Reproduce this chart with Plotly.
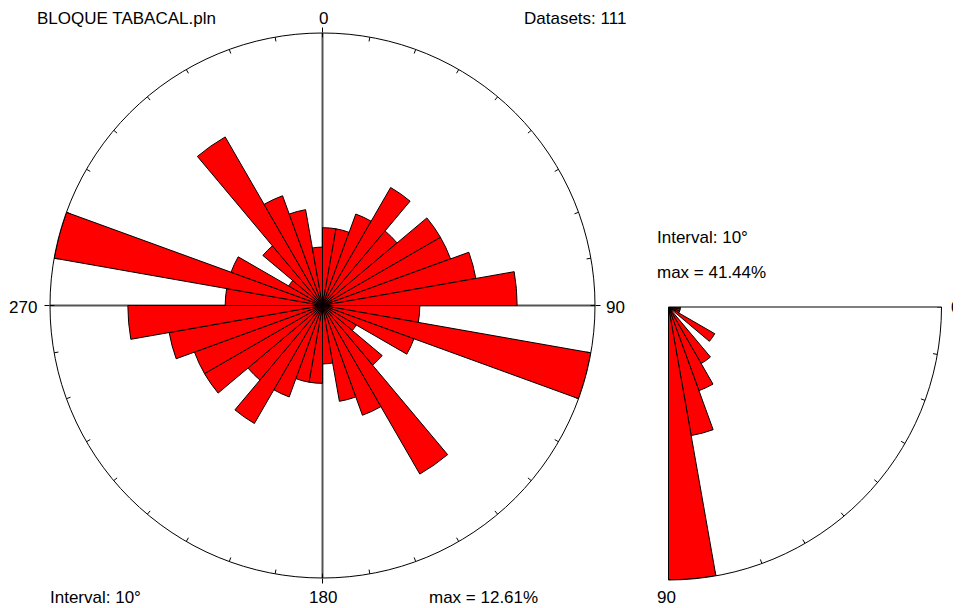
import plotly.graph_objects as go

W, H = 961, 608
TOTAL = 111  # "Datasets: 111"

# ---- Rose diagram (strike), 10 degree bins, bidirectional ----
rose_bin_start = [0, 10, 20, 30, 40, 50, 60, 70, 80, 90, 100, 110, 120, 130, 140, 150, 160, 170,
                  180, 190, 200, 210, 220, 230, 240, 250, 260, 270, 280, 290, 300, 310, 320, 330, 340, 350]
rose_counts = [4, 4, 5, 7, 5, 7, 7, 8, 10, 5, 14, 5, 2, 4, 10, 6, 5, 3,
               4, 4, 5, 7, 5, 7, 7, 8, 10, 5, 14, 5, 2, 4, 10, 6, 5, 3]
rose_tick_angles = [0, 10, 20, 30, 40, 50, 60, 70, 80, 90, 100, 110, 120, 130, 140, 150, 160, 170,
                    180, 190, 200, 210, 220, 230, 240, 250, 260, 270, 280, 290, 300, 310, 320, 330, 340, 350]
rose_labels = ["0", "90", "180", "270"]

# ---- Dip diagram, 10 degree bins ----
dip_bin_start = [0, 10, 20, 30, 40, 50, 60, 70, 80]
dip_counts = [2, 2, 2, 9, 0, 11, 15, 22, 46]
dip_tick_angles = [0, 10, 20, 30, 40, 50, 60, 70, 80, 90]
dip_labels = ["0", "90"]

BIN = 10
rose_pct = [c / TOTAL * 100 for c in rose_counts]
dip_pct = [c / TOTAL * 100 for c in dip_counts]
rose_max = max(rose_pct)
dip_max = max(dip_pct)

RED = "#ff0000"
FONT = "Liberation Sans, Arial, sans-serif"
OFF = 8  # page body margin of the html page


def tick_trace(angles, rmax, frac, subplot):
    r, th = [], []
    for a in angles:
        r += [rmax * (1 - frac), rmax, None]
        th += [a, a, None]
    return go.Scatterpolar(r=r, theta=th, mode="lines", subplot=subplot,
                           line=dict(color="black", width=1),
                           hoverinfo="skip", showlegend=False)


fig = go.Figure()

fig.add_trace(go.Barpolar(
    r=rose_pct, theta=[b + BIN / 2 for b in rose_bin_start], width=[BIN] * len(rose_bin_start),
    marker=dict(color=RED, line=dict(color="black", width=1)),
    subplot="polar", showlegend=False))
fig.add_trace(tick_trace(rose_tick_angles, rose_max, 0.016, "polar"))

fig.add_trace(go.Barpolar(
    r=dip_pct, theta=[b + BIN / 2 for b in dip_bin_start], width=[BIN] * len(dip_bin_start),
    marker=dict(color=RED, line=dict(color="black", width=1)),
    subplot="polar2", showlegend=False))
fig.add_trace(tick_trace(dip_tick_angles, dip_max, 0.016, "polar2"))


def px(x):
    return (x - OFF) / W


def py(y):
    return 1 - (y - OFF) / H


annots = [
    dict(text="BLOQUE TABACAL.pln", x=px(35), y=py(18), xanchor="left"),
    dict(text="Datasets: %d" % TOTAL, x=px(628), y=py(18), xanchor="right"),
    dict(text=rose_labels[0], x=px(323), y=py(18), xanchor="center"),
    dict(text=rose_labels[1], x=px(604), y=py(307), xanchor="left"),
    dict(text=rose_labels[2], x=px(323), y=py(597), xanchor="center"),
    dict(text=rose_labels[3], x=px(39), y=py(307), xanchor="right"),
    dict(text="Interval: %d°" % BIN, x=px(48), y=py(597), xanchor="left"),
    dict(text="max = %.2f%%" % rose_max, x=px(427), y=py(597), xanchor="left"),
    dict(text="Interval: %d°" % BIN, x=px(655), y=py(237), xanchor="left"),
    dict(text="max = %.2f%%" % dip_max, x=px(655), y=py(272), xanchor="left"),
    dict(text=dip_labels[0], x=px(949), y=py(307), xanchor="left"),
    dict(text=dip_labels[1], x=px(655), y=py(597), xanchor="left"),
]
for a in annots:
    a.update(xref="paper", yref="paper", yanchor="middle", showarrow=False,
             font=dict(family=FONT, size=17, color="black"))

fig.update_layout(
    width=W, height=H,
    margin=dict(l=0, r=0, t=0, b=0),
    paper_bgcolor="white", plot_bgcolor="white",
    showlegend=False,
    annotations=annots,
    polar=dict(
        domain=dict(x=[px(49), px(596)], y=[py(578), py(33)]),
        bgcolor="white",
        angularaxis=dict(rotation=90, direction="clockwise",
                         tickmode="array", tickvals=[0, 90, 180, 270],
                         showticklabels=False, ticks="outside", ticklen=5,
                         tickcolor="black", tickwidth=1,
                         showline=True, linecolor="black", linewidth=1,
                         showgrid=True, gridcolor="#555555", gridwidth=1.5),
        radialaxis=dict(range=[0, rose_max], visible=False),
    ),
    polar2=dict(
        domain=dict(x=[px(667), px(943)], y=[py(580), py(307)]),
        bgcolor="white",
        sector=[270, 360],
        angularaxis=dict(rotation=0, direction="clockwise",
                         tickmode="array", tickvals=[0, 90],
                         showticklabels=False, ticks="",
                         showline=True, linecolor="black", linewidth=1,
                         showgrid=True, gridcolor="#555555", gridwidth=1.5),
        radialaxis=dict(range=[0, dip_max], visible=False),
    ),
)

fig.write_html("out.html")
